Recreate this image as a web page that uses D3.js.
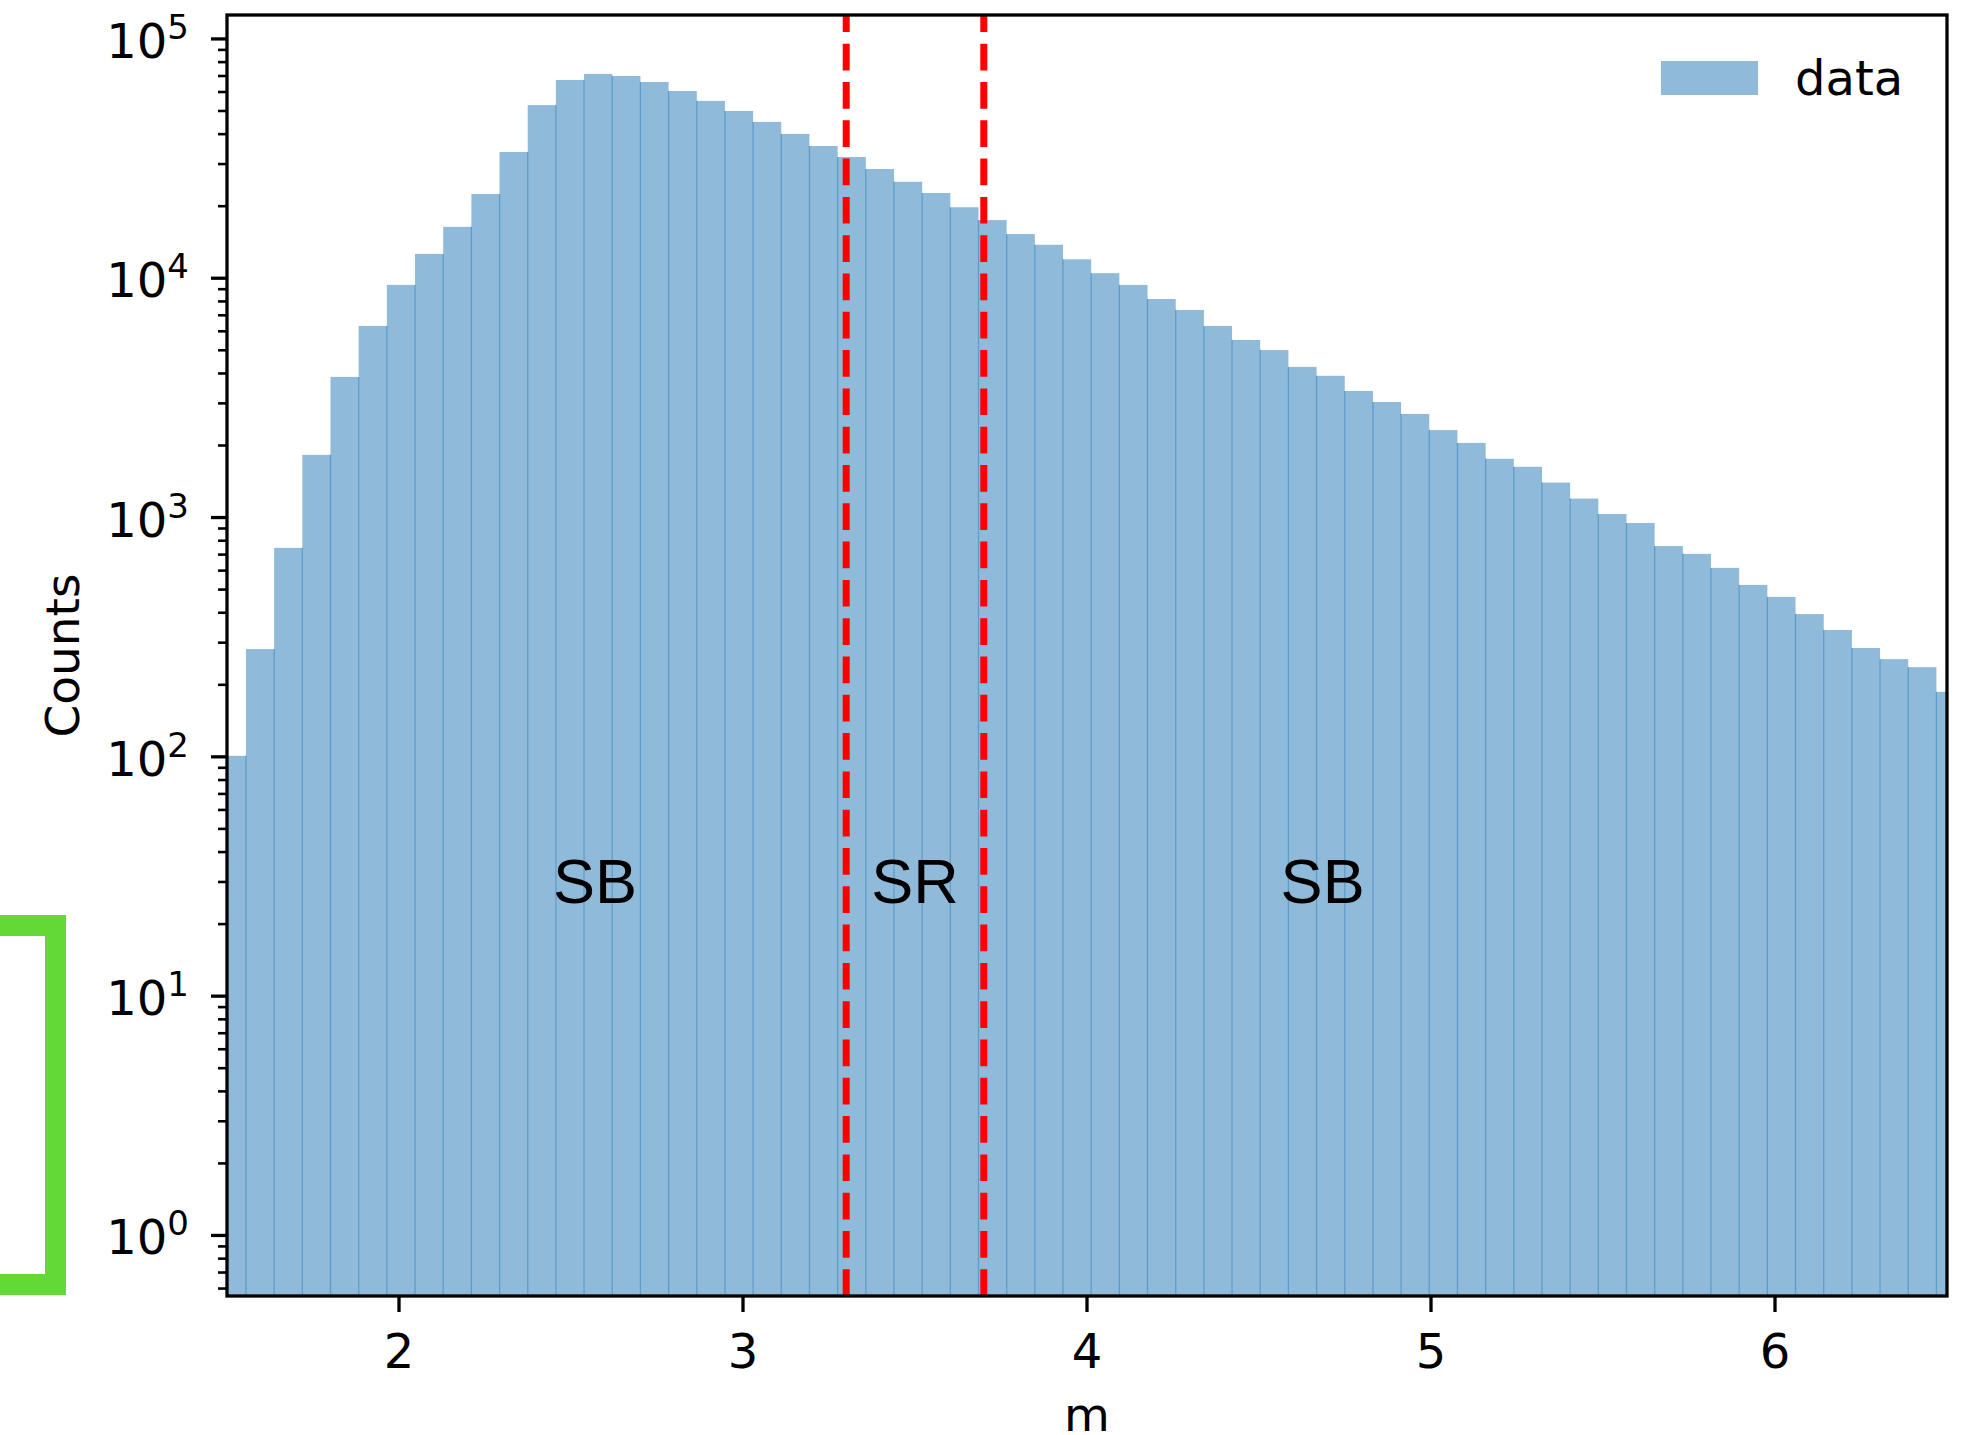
<!DOCTYPE html>
<html lang="en">
<head>
  <meta charset="UTF-8">
  <style>
    html, body { margin: 0; padding: 0; background: #fff; }
    svg { display: block; }
    .tick-label { font-family: "DejaVu Sans", sans-serif; font-size: 48px; fill: #000; }
  </style>
  <script src="https://d3js.org/d3.v7.min.js"></script>
</head>
<body>
  <svg id="chart" width="1966" height="1435"></svg>

  <script>
    // histogram counts per bin
    const counts = [
      101, 282, 747, 1828, 3870, 6320, 9380, 12640, 16400, 22500,
      33700, 52900, 67400, 71400, 70000, 66100, 60600, 55100, 50000, 45000,
      40100, 35700, 32100, 28600, 25300, 22700, 19800, 17500, 15300, 13800,
      12000, 10500, 9380, 8190, 7370, 6320, 5520, 5010, 4260, 3910,
      3380, 3040, 2710, 2320, 2050, 1760, 1630, 1400, 1200, 1035,
      949, 760, 705, 616, 523, 466, 395, 339, 285, 256,
      237, 187
    ];
    const binLo = 1.4733;   // first bin edge
    const binW = 0.0819;    // bin width

    const xTicks = [2, 3, 4, 5, 6];
    const yDecades = [0, 1, 2, 3, 4, 5];
    const cuts = [3.3, 3.7];   // SR window edges
    const regionLabels = [
      { x: 2.57, text: "SB" },
      { x: 3.5, text: "SR" },
      { x: 4.685, text: "SB" }
    ];
    const regionLabelY = 30;

    const pLeft = 227, pRight = 1947, pTop = 15, pBottom = 1296;

    const svg = d3.select("#chart");

    const x = d3.scaleLinear().domain([1.5, 6.5]).range([pLeft, pRight]);
    const y = d3.scaleLog().domain([Math.pow(10, -0.253), Math.pow(10, 5.1)]).range([pBottom, pTop]);

    svg.append("clipPath").attr("id", "plot-clip")
      .append("rect")
      .attr("x", pLeft).attr("y", pTop)
      .attr("width", pRight - pLeft).attr("height", pBottom - pTop);

    const bins = counts.map((c, i) => ({ x0: binLo + i * binW, x1: binLo + (i + 1) * binW, c: c }));

    const plot = svg.append("g").attr("clip-path", "url(#plot-clip)");

    // bars
    plot.selectAll("rect.bar")
      .data(bins)
      .enter()
      .append("rect")
      .attr("class", "bar")
      .attr("x", d => x(d.x0))
      .attr("width", d => x(d.x1) - x(d.x0))
      .attr("y", d => y(d.c))
      .attr("height", d => pBottom - y(d.c))
      .attr("fill", "#8fbad9");

    // darker seams where neighbouring bars overlap
    plot.selectAll("line.seam")
      .data(bins.slice(1))
      .enter()
      .append("line")
      .attr("class", "seam")
      .attr("x1", d => x(d.x0))
      .attr("x2", d => x(d.x0))
      .attr("y1", pBottom)
      .attr("y2", (d, i) => y(Math.min(d.c, bins[i].c)))
      .attr("stroke", "#5e9dca")
      .attr("stroke-width", 1.3);

    // region labels
    plot.selectAll("text.region")
      .data(regionLabels)
      .enter()
      .append("text")
      .attr("x", d => x(d.x))
      .attr("y", y(regionLabelY) + 21)
      .attr("text-anchor", "middle")
      .style("font-family", "'Liberation Sans', Arial, sans-serif")
      .style("font-size", "63px")
      .text(d => d.text);

    // red dashed cut lines (dash phase from the bottom)
    plot.selectAll("line.cut")
      .data(cuts)
      .enter()
      .append("line")
      .attr("x1", d => x(d)).attr("x2", d => x(d))
      .attr("y1", pBottom).attr("y2", pTop)
      .attr("stroke", "#ff0000")
      .attr("stroke-width", 7)
      .attr("stroke-dasharray", "26.7 11.6");

    // y minor + major ticks
    const minor = [];
    for (let k = -1; k <= 5; k++) {
      for (let m = 2; m <= 9; m++) {
        const v = m * Math.pow(10, k);
        if (v >= y.domain()[0] && v <= y.domain()[1]) minor.push(v);
      }
    }
    svg.append("g").selectAll("line")
      .data(minor).enter().append("line")
      .attr("x1", pLeft - 9).attr("x2", pLeft)
      .attr("y1", d => y(d)).attr("y2", d => y(d))
      .attr("stroke", "#000").attr("stroke-width", 2.6);

    svg.append("g").selectAll("line")
      .data(yDecades).enter().append("line")
      .attr("x1", pLeft - 16).attr("x2", pLeft)
      .attr("y1", d => y(Math.pow(10, d))).attr("y2", d => y(Math.pow(10, d)))
      .attr("stroke", "#000").attr("stroke-width", 3.3);

    const yLab = svg.append("g").selectAll("text")
      .data(yDecades).enter().append("text")
      .attr("class", "tick-label")
      .attr("x", 189)
      .attr("y", d => y(Math.pow(10, d)) + 19)
      .attr("text-anchor", "end");
    yLab.append("tspan").text("10");
    yLab.append("tspan").attr("dy", -19).style("font-size", "34px").text(d => d);

    // x ticks
    svg.append("g").selectAll("line")
      .data(xTicks).enter().append("line")
      .attr("x1", d => x(d)).attr("x2", d => x(d))
      .attr("y1", pBottom).attr("y2", pBottom + 16)
      .attr("stroke", "#000").attr("stroke-width", 3.3);

    svg.append("g").selectAll("text")
      .data(xTicks).enter().append("text")
      .attr("class", "tick-label")
      .attr("x", d => x(d))
      .attr("y", 1368)
      .attr("text-anchor", "middle")
      .text(d => d);

    // frame
    svg.append("rect")
      .attr("x", pLeft).attr("y", pTop)
      .attr("width", pRight - pLeft).attr("height", pBottom - pTop)
      .attr("fill", "none").attr("stroke", "#000").attr("stroke-width", 3.3);

    // axis labels
    svg.append("text")
      .attr("class", "tick-label")
      .attr("x", x(4)).attr("y", 1431)
      .attr("text-anchor", "middle")
      .style("font-size", "47px")
      .text("m");

    svg.append("text")
      .attr("class", "tick-label")
      .attr("transform", "translate(79," + ((pTop + pBottom) / 2) + ") rotate(-90)")
      .attr("text-anchor", "middle")
      .style("font-size", "47px")
      .text("Counts");

    // legend
    const legend = svg.append("g").attr("transform", "translate(1661, 61)");
    legend.append("rect")
      .attr("width", 97).attr("height", 34)
      .attr("fill", "#8fbad9");
    legend.append("text")
      .attr("class", "tick-label")
      .attr("x", 134).attr("y", 34)
      .text("data");

    // green bracket at the left edge
    svg.append("path")
      .attr("d", "M-20,925.5 H55.5 V1284.5 H-20")
      .attr("fill", "none")
      .attr("stroke", "#62d934")
      .attr("stroke-width", 21);
  </script>
</body>
</html>
